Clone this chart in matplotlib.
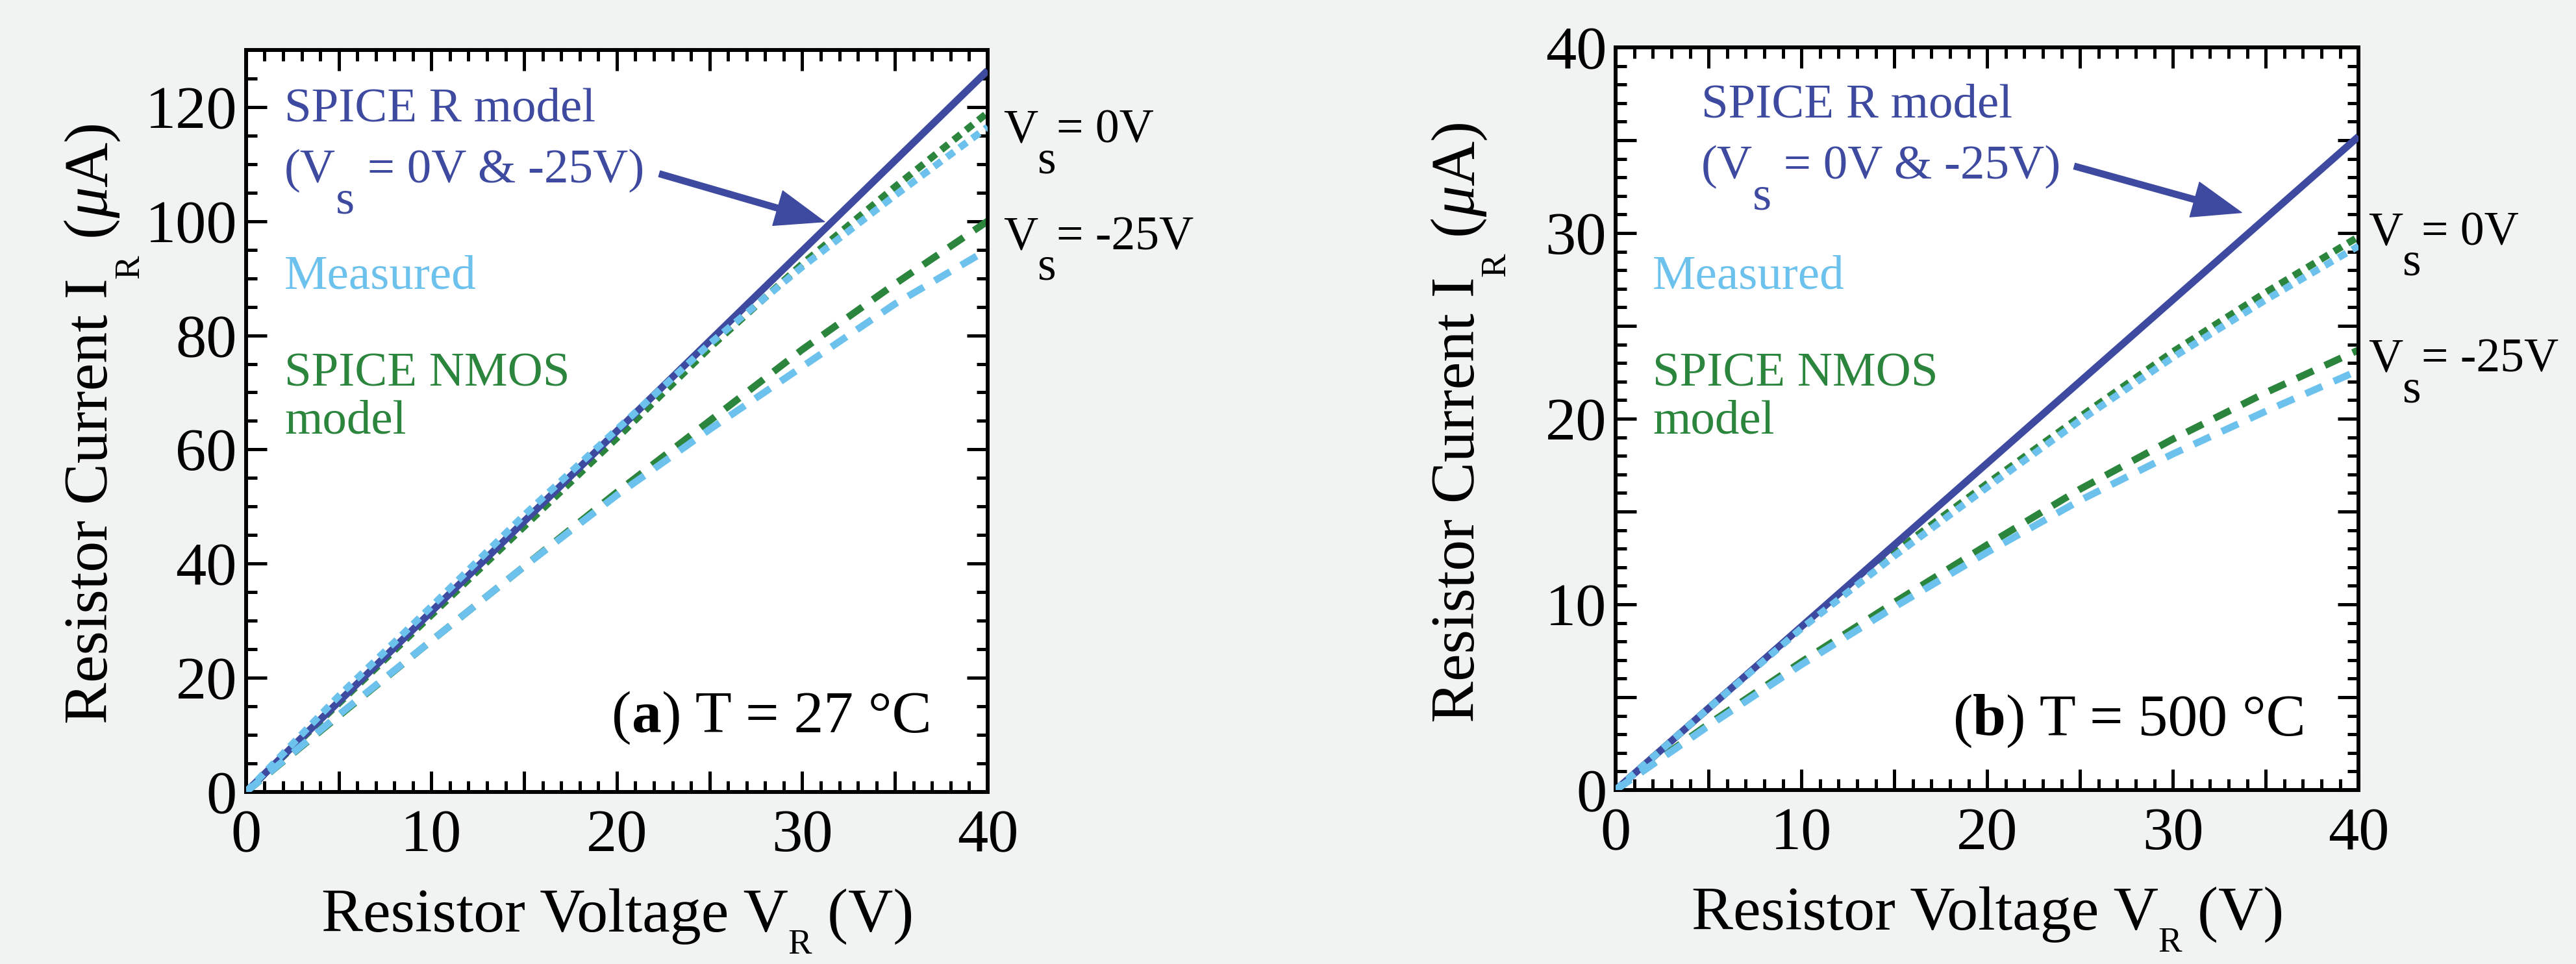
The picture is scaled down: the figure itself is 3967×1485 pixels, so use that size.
import matplotlib
matplotlib.use('Agg')
import matplotlib.pyplot as plt
from matplotlib.ticker import MultipleLocator, FuncFormatter
from matplotlib.transforms import offset_copy

plt.rcParams['font.family'] = ['Liberation Serif', 'DejaVu Serif']
plt.rcParams['lines.scale_dashes'] = False

BLUE = '#3d4aa0'
LIGHT = '#6cc2ec'
GREEN = '#2b853d'
BG = '#f1f3f2'

vr = [0, 5, 10, 15, 20, 25, 30, 35, 40]

# (a) T = 27 C, current in uA
a_rmodel = [0, 15.8, 31.6, 47.4, 63.2, 79.0, 94.8, 110.6, 126.4]
a_meas_0 = [0, 16.8, 32.5, 48.5, 63.5, 78.5, 92.0, 104.5, 116.5]
a_nmos_0 = [0, 15.5, 31.0, 46.5, 62.0, 77.8, 92.5, 106.0, 119.0]
a_meas_25 = [0, 13.5, 26.5, 39.5, 52.0, 63.5, 74.5, 85.5, 95.0]
a_nmos_25 = [0, 13.3, 26.5, 39.5, 52.5, 65.0, 77.5, 89.0, 100.0]

# (b) T = 500 C
b_rmodel = [0, 4.4, 8.8, 13.2, 17.6, 22.0, 26.4, 30.8, 35.2]
b_meas_0 = [0, 4.4, 8.7, 12.6, 16.3, 19.9, 23.3, 26.4, 29.3]
b_nmos_0 = [0, 4.4, 8.75, 12.8, 16.5, 20.1, 23.6, 26.8, 29.8]
b_meas_25 = [0, 3.45, 6.75, 9.85, 12.8, 15.6, 18.1, 20.4, 22.6]
b_nmos_25 = [0, 3.55, 6.9, 10.1, 13.2, 16.2, 18.9, 21.4, 23.7]


def advance(fig, renderer, s, size, **kw):
    # width of a string including spaces, in points
    t = fig.text(0, 0, s + '|', fontsize=size, **kw)
    w1 = t.get_window_extent(renderer).width
    t.set_text('|')
    w2 = t.get_window_extent(renderer).width
    t.remove()
    return (w1 - w2) * 72 / fig.dpi


def rich_text(fig, x, y, pieces, size, color='black', transform=None, ha='left', rotation=0):
    # pieces: (text, scale, drop in em, [kwargs]) -> lets subscripts sit low like the original
    renderer = fig.canvas.get_renderer()
    base = transform if transform is not None else fig.transFigure
    kws = [p[3] if len(p) > 3 else {} for p in pieces]
    widths = [advance(fig, renderer, p[0], size * p[1], **k) for p, k in zip(pieces, kws)]
    pos = {'left': 0, 'center': -sum(widths) / 2, 'right': -sum(widths)}[ha]
    for p, w, k in zip(pieces, widths, kws):
        s, scale, drop = p[:3]
        if rotation:
            tr = offset_copy(base, fig=fig, x=drop * size, y=pos, units='points')
        else:
            tr = offset_copy(base, fig=fig, x=pos, y=-drop * size, units='points')
        fig.text(x, y, s, fontsize=size * scale, color=color, rotation=rotation,
                 rotation_mode='anchor', ha='left', va='baseline', transform=tr, **k)
        pos += w


def setup_axes(ax, ymax, ymajor, yminor, ylabel_step):
    ax.set_xlim(0, 40)
    ax.set_ylim(0, ymax)
    ax.xaxis.set_major_locator(MultipleLocator(5))
    ax.xaxis.set_minor_locator(MultipleLocator(1))
    ax.yaxis.set_major_locator(MultipleLocator(ymajor))
    ax.yaxis.set_minor_locator(MultipleLocator(yminor))
    ax.xaxis.set_major_formatter(FuncFormatter(lambda v, p: f'{v:.0f}' if abs(v % 10) < 1e-6 else ''))
    ax.yaxis.set_major_formatter(FuncFormatter(lambda v, p: f'{v:.0f}' if abs(v % ylabel_step) < 1e-6 else ''))
    ax.tick_params(which='both', direction='in', top=True, right=True, width=3.6, labelsize=68)
    ax.tick_params(which='major', length=23)
    ax.tick_params(which='minor', length=12)
    ax.tick_params(axis='x', pad=19)
    ax.tick_params(axis='y', pad=10)
    for sp in ax.spines.values():
        sp.set_linewidth(4.3)


def draw_lines(ax, rmodel, meas0, nmos0, meas25, nmos25):
    dot = (0, (10, 7.5))
    dash = (0, (20, 14))
    lw = 7.8
    ax.plot(vr, nmos0, color=GREEN, lw=lw, ls=dot, dash_capstyle='butt', zorder=2)
    ax.plot(vr, nmos25, color=GREEN, lw=lw, ls=dash, dash_capstyle='butt', zorder=2)
    ax.plot(vr, rmodel, color=BLUE, lw=8, solid_capstyle='butt', zorder=3)
    ax.plot(vr, meas0, color=LIGHT, lw=lw, ls=dot, dash_capstyle='butt', zorder=4)
    ax.plot(vr, meas25, color=LIGHT, lw=lw, ls=dash, dash_capstyle='butt', zorder=4)


fig = plt.figure(figsize=(39.67, 14.85), dpi=100, facecolor=BG)
ax1 = fig.add_axes([0.0955, 0.1785, 0.2879, 0.7697])
ax2 = fig.add_axes([0.6272, 0.1805, 0.2884, 0.7704])

setup_axes(ax1, 130, 20, 5, 20)
setup_axes(ax2, 40, 5, 1, 10)
draw_lines(ax1, a_rmodel, a_meas_0, a_nmos_0, a_meas_25, a_nmos_25)
draw_lines(ax2, b_rmodel, b_meas_0, b_nmos_0, b_meas_25, b_nmos_25)

arrow = dict(arrowstyle='simple,head_length=1.35,head_width=1.0,tail_width=0.17',
             mutation_scale=40, color=BLUE, shrinkA=0, shrinkB=0)
ax1.annotate('', xy=(31.2, 99.9), xytext=(22.3, 108.3), arrowprops=arrow, zorder=5)
ax2.annotate('', xy=(33.7, 31.1), xytext=(24.7, 33.6), arrowprops=arrow, zorder=5)

TS = 54
for ax, xr, xm, yl in [(ax1, 0.052, 0.052, [0.904, 0.821, 0.678, 0.547, 0.483]),
                       (ax2, 0.115, 0.05, [0.906, 0.823, 0.675, 0.544, 0.48])]:
    t = ax.transAxes
    rich_text(fig, xr, yl[0], [('SPICE R model', 1, 0)], TS, BLUE, t)
    rich_text(fig, xr, yl[1], [('(V', 1, 0), ('s', 1, 0.63), (' = 0V & -25V)', 1, 0)], TS, BLUE, t)
    rich_text(fig, xm, yl[2], [('Measured', 1, 0)], TS, LIGHT, t)
    rich_text(fig, xm, yl[3], [('SPICE NMOS', 1, 0)], TS, GREEN, t)
    rich_text(fig, xm, yl[4], [('model', 1, 0)], TS, GREEN, t)

# Vs labels outside the right spine
for ax, x, y0, y25 in [(ax1, 1.021, 0.875, 0.731), (ax2, 1.013, 0.734, 0.563)]:
    rich_text(fig, x, y0, [('V', 1, 0), ('s', 1, 0.63), ('= 0V', 1, 0)], 53, 'black', ax.transAxes)
    rich_text(fig, x, y25, [('V', 1, 0), ('s', 1, 0.63), ('= -25V', 1, 0)], 53, 'black', ax.transAxes)

rich_text(fig, 0.924, 0.081, [('(', 1, 0), ('a', 1, 0, {'weight': 'bold'}), (') T = 27 \u00b0C', 1, 0)],
          66, 'black', ax1.transAxes, ha='right')
rich_text(fig, 0.929, 0.074, [('(', 1, 0), ('b', 1, 0, {'weight': 'bold'}), (') T = 500 \u00b0C', 1, 0)],
          66, 'black', ax2.transAxes, ha='right')

# axis labels
xl = [('Resistor Voltage V', 1, 0), ('R', 0.57, 0.36), (' (V)', 1, 0)]
yl = [('Resistor Current I', 1, 0), ('R', 0.57, 0.5), (' (', 1, 0), ('\u03bc', 1, 0, {'style': 'italic'}), ('A)', 1, 0)]
rich_text(fig, 0.2397, 0.034, xl, 69, ha='center')
rich_text(fig, 0.7716, 0.036, xl, 69, ha='center')
rich_text(fig, 0.0416, 0.5616, yl, 69, ha='center', rotation=90)
rich_text(fig, 0.5722, 0.563, yl, 69, ha='center', rotation=90)

fig.savefig('out.png', dpi=100, facecolor=BG)
